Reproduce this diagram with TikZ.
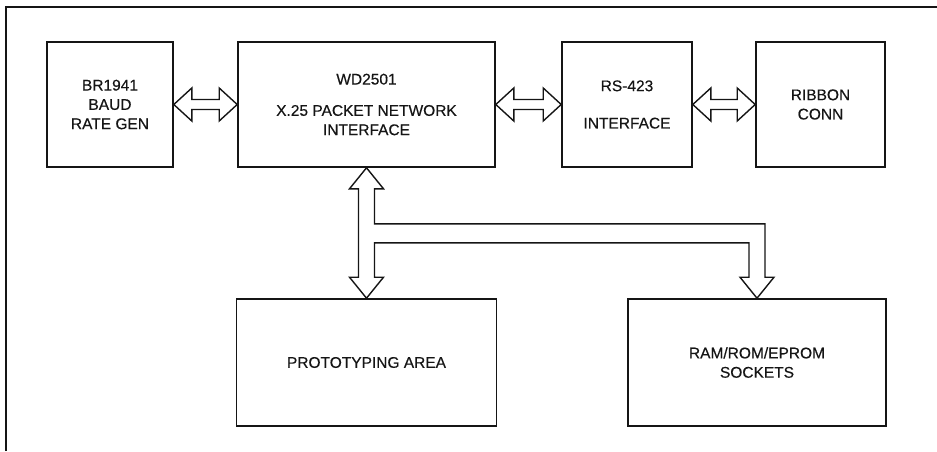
\documentclass[tikz,border=0pt]{standalone}
\usepackage{fontspec}
\setmainfont{Liberation Sans}
\newfontfamily\boxfont{Liberation Sans}[FakeBold=0.4]
\usepackage{tikz}
\usetikzlibrary{calc}
\definecolor{ink}{HTML}{151515}

% hollow double-headed arrow between two boxes (left box, right box)
\newcommand{\dblarrow}[2]{%
  \draw[hollow] (#1.east) -- ++(18,-16.5) -- ++(0,11.5)
    -- ($(#2.west)+(-18,-5)$) -- ++(0,-11.5) -- (#2.west)
    -- ++(-18,16.5) -- ++(0,-11.5) -- ($(#1.east)+(18,5)$)
    -- ++(0,11.5) -- cycle;}

\begin{document}
\begin{tikzpicture}[x=1pt,y=-1pt,
  blk/.style={draw=ink, line width=1.6pt, inner sep=0pt, align=center,
    font=\boxfont\fontsize{15.5}{19.3}\selectfont, text=ink},
  hollow/.style={draw=ink, line width=1.4pt, line join=miter, fill=white},
  frame/.style={draw=ink, line width=1.2pt}]
  \useasboundingbox (0,0) rectangle (937,451);
  \draw[frame] (6,451) -- (6,7) -- (937,7);

  % top row
  \node[blk, minimum width=126pt, minimum height=125pt] (baud) at (110,104.5)
    {BR1941\\BAUD\\RATE GEN};
  \node[blk, minimum width=257pt, minimum height=125pt] (wd) at (366.5,104.5)
    {WD2501\\[12pt]X.25 PACKET NETWORK\\INTERFACE};
  \node[blk, minimum width=130pt, minimum height=125pt] (rs) at (627,104.5)
    {RS-423\\[18pt]INTERFACE};
  \node[blk, minimum width=129pt, minimum height=125pt] (rib) at (820.5,104.5)
    {RIBBON\\CONN};

  % bottom row
  \node[blk, minimum width=260pt, minimum height=127pt] (proto) at (366.5,362.5)
    {PROTOTYPING AREA};
  \node[blk, minimum width=258pt, minimum height=127pt] (mem) at (757,362.5)
    {RAM/ROM/EPROM\\SOCKETS};

  \dblarrow{baud}{wd}
  \dblarrow{wd}{rs}
  \dblarrow{rs}{rib}

  % bus from WD2501 down to both lower boxes
  \coordinate (bus) at ($(wd.south)+(0,65.5)$);
  \draw[hollow] (wd.south) -- ++(17,21) -- ++(-9,0)
    -- ($(wd.south |- bus)+(8,-9.5)$) -- ($(mem.north |- bus)+(8,-9.5)$)
    -- ($(mem.north)+(8,-21)$) -- ++(9,0) -- (mem.north)
    -- ++(-17,-21) -- ++(9,0) -- ($(mem.north |- bus)+(-8,9.5)$)
    -- ($(wd.south |- bus)+(8,9.5)$) -- ($(proto.north)+(8,-21)$)
    -- ++(9,0) -- (proto.north) -- ++(-17,-21) -- ++(9,0)
    -- ($(wd.south)+(-8,21)$) -- ++(-9,0) -- cycle;
\end{tikzpicture}
\end{document}
